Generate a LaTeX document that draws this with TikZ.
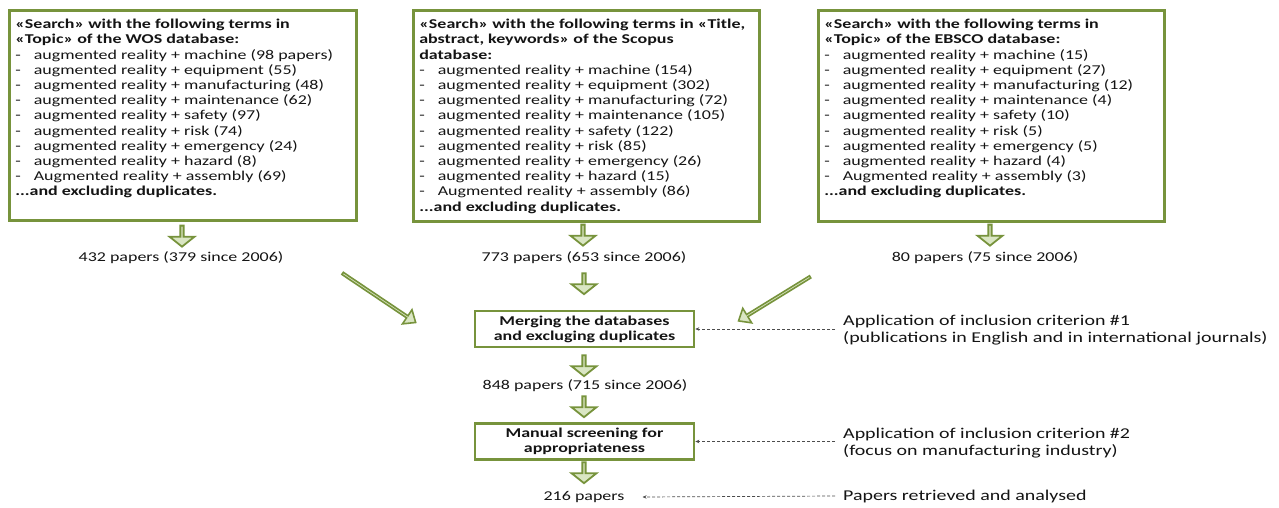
\documentclass[tikz,border=0pt]{standalone}
\usepackage{fontspec}
\setmainfont{Carlito}[FakeStretch=1.33]
\usetikzlibrary{shapes.arrows,arrows.meta,calc}
\definecolor{grn}{RGB}{119,147,60}
\definecolor{lgrn}{RGB}{218,230,195}
\definecolor{txt}{RGB}{20,20,20}
\tikzset{
  bigbox/.style={draw=grn, line width=2.6pt, anchor=north west, inner sep=0pt, text=txt},
  midbox/.style={draw=grn, line width=2.6pt, minimum width=219pt, minimum height=36pt, align=center, font=\fontsize{13.5}{15}\selectfont\bfseries, inner sep=0pt, text=txt},
  lbl/.style={font=\fontsize{13.5}{15}\selectfont, text=txt, inner sep=2pt},
  side/.style={font=\fontsize{15}{17}\selectfont, text=txt, align=left, anchor=west, inner sep=0pt},
  blk/.style={single arrow, draw=grn, fill=lgrn, line width=1.8pt, minimum width=25pt, single arrow head extend=6pt, single arrow tip angle=103, minimum height=21pt, inner sep=0pt, rotate=-90},
  diag/.style={single arrow, draw=grn, fill=lgrn, line width=1.6pt, minimum width=17pt, single arrow head extend=4.5pt, single arrow tip angle=80, inner sep=0pt},
  dsh/.style={dashed, dash pattern=on 3pt off 2pt, draw=black!70, line width=0.7pt, -{Stealth[length=4pt,width=3.5pt]}}
}
\newcommand{\itm}[1]{-\hspace{13pt}#1\\}
\begin{document}
\begin{tikzpicture}[x=1pt,y=-1pt]
\useasboundingbox (0,0) rectangle (1279,508);
% top boxes
\node[bigbox] (b1) at (8,9) {\parbox[c][210pt][t]{347pt}{\fontsize{13.5}{15.2}\selectfont\raggedright\leftskip=6pt\vspace{9pt}
\textbf{«Search» with the following terms in}\\
\textbf{«Topic» of the WOS database:}\\
\itm{augmented reality + machine (98 papers)}
\itm{augmented reality + equipment (55)}
\itm{augmented reality + manufacturing (48)}
\itm{augmented reality + maintenance (62)}
\itm{augmented reality + safety (97)}
\itm{augmented reality + risk (74)}
\itm{augmented reality + emergency (24)}
\itm{augmented reality + hazard (8)}
\itm{Augmented reality + assembly (69)}
\textbf{...and excluding duplicates.}}};
\node[bigbox] (b2) at (412,9) {\parbox[c][211pt][t]{346pt}{\fontsize{13.5}{15.2}\selectfont\raggedright\leftskip=6pt\vspace{9pt}
\textbf{«Search» with the following terms in «Title,}\\
\textbf{abstract, keywords» of the Scopus}\\
\textbf{database:}\\
\itm{augmented reality + machine (154)}
\itm{augmented reality + equipment (302)}
\itm{augmented reality + manufacturing (72)}
\itm{augmented reality + maintenance (105)}
\itm{augmented reality + safety (122)}
\itm{augmented reality + risk (85)}
\itm{augmented reality + emergency (26)}
\itm{augmented reality + hazard (15)}
\itm{Augmented reality + assembly (86)}
\textbf{...and excluding duplicates.}}};
\node[bigbox] (b3) at (817,9) {\parbox[c][211pt][t]{346pt}{\fontsize{13.5}{15.2}\selectfont\raggedright\leftskip=6pt\vspace{9pt}
\textbf{«Search» with the following terms in}\\
\textbf{«Topic» of the EBSCO database:}\\
\itm{augmented reality + machine (15)}
\itm{augmented reality + equipment (27)}
\itm{augmented reality + manufacturing (12)}
\itm{augmented reality + maintenance (4)}
\itm{augmented reality + safety (10)}
\itm{augmented reality + risk (5)}
\itm{augmented reality + emergency (5)}
\itm{augmented reality + hazard (4)}
\itm{Augmented reality + assembly (3)}
\textbf{...and excluding duplicates.}}};
% counts
\node[lbl] (n1) at (181,258) {432 papers (379 since 2006)};
\node[lbl] (n2) at (584,258) {773 papers (653 since 2006)};
\node[lbl] (n3) at (985,258) {80 papers (75 since 2006)};
\node[midbox] (merge) at (584.5,329) {Merging the databases\\and excluging duplicates};
\node[lbl] (n4) at (585,386) {848 papers (715 since 2006)};
\node[midbox] (manual) at (584.5,441.5) {Manual screening for\\appropriateness};
\node[lbl] (n5) at (584,497) {216 papers};
% block arrows
\node[blk] (a1) at (182,235.5) {};
\node[blk] (a2) at (583,234.5) {};
\node[blk] (a3) at (990,234.5) {};
\node[blk] (a4) at (584,283) {};
\node[blk] (a5) at (584,365) {};
\node[blk] (a6) at (584,406) {};
\node[blk] (a7) at (584,472) {};
\node[diag, rotate=-33.9, minimum height=88pt] (d1) at (378.5,297.5) {};
\node[diag, rotate=-148.4, minimum height=84pt] (d2) at (775,298.5) {};
% side labels
\node[side] (c1) at (843,330.5) {Application of inclusion criterion \#1\\(publications in English and in international journals)};
\node[side] (c2) at (843,443) {Application of inclusion criterion \#2\\(focus on manufacturing industry)};
\node[side] (c3) at (843,496) {Papers retrieved and analysed};
\draw[dsh] ([xshift=-8pt]c1.west |- merge.east) -- (merge.east);
\draw[dsh] ([xshift=-8pt]c2.west |- manual.east) -- (manual.east);
\draw[dsh] ([xshift=-8pt]c3.west) -- ([xshift=16pt]n5.east);
\end{tikzpicture}
\end{document}
